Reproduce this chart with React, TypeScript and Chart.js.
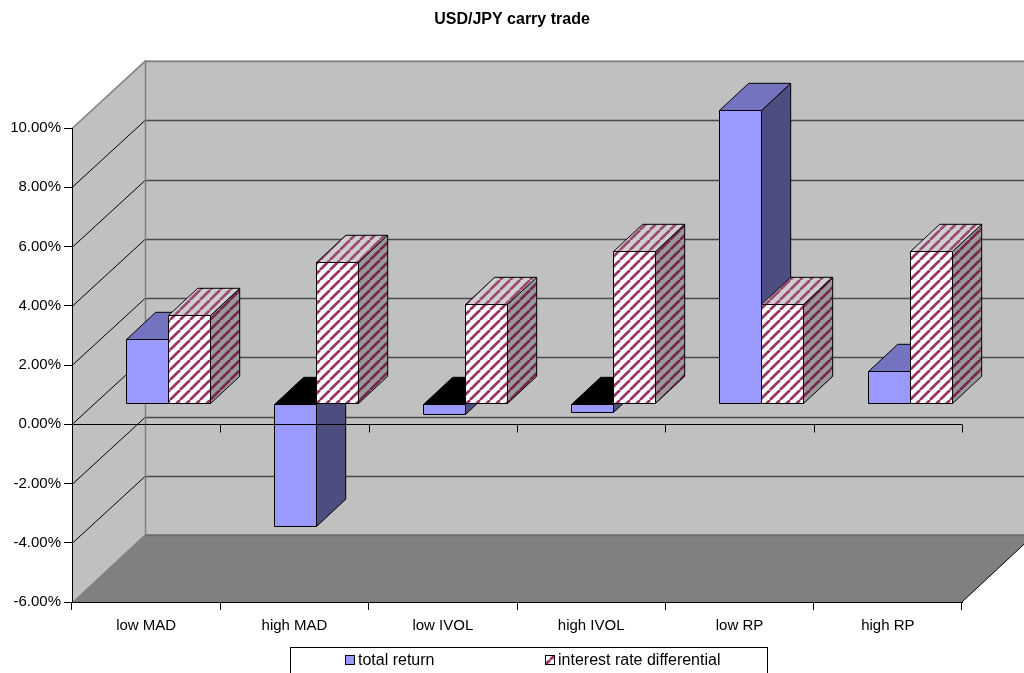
import React, { useEffect, useRef } from "react";
import { Chart, registerables } from "chart.js";

Chart.register(...registerables);

const chartTitle = "USD/JPY carry trade";
const categories = ["low MAD", "high MAD", "low IVOL", "high IVOL", "low RP", "high RP"];
const seriesNames = ["total return", "interest rate differential"];
const totalReturn = [2.2, -4.11, -0.34, -0.27, 9.92, 1.1];
const interestRateDifferential = [3.0, 4.79, 3.38, 5.15, 3.38, 5.15];
const yTicks = [-6, -4, -2, 0, 2, 4, 6, 8, 10];

const FONT = "'Liberation Sans', Arial, sans-serif";
const DX = 73;
const DY = -68;
const BAR_FRONT = 0.3;
const BAR_DEPTH = 0.4;

function makeHatch(bg: string, fg: string): CanvasPattern | string {
  const s = 10;
  const c = document.createElement("canvas");
  c.width = s;
  c.height = s;
  const g = c.getContext("2d");
  if (!g) return bg;
  g.fillStyle = bg;
  g.fillRect(0, 0, s, s);
  g.strokeStyle = fg;
  g.lineWidth = 2.7;
  g.beginPath();
  for (const o of [-s, 0, s]) {
    g.moveTo(o, s);
    g.lineTo(o + s, 0);
  }
  g.stroke();
  const p = g.createPattern(c, "repeat");
  return p || bg;
}

function poly(ctx: CanvasRenderingContext2D, pts: number[][], fill: any, stroke = "#000", lw = 1) {
  ctx.beginPath();
  ctx.moveTo(pts[0][0], pts[0][1]);
  for (let i = 1; i < pts.length; i++) ctx.lineTo(pts[i][0], pts[i][1]);
  ctx.closePath();
  if (fill) {
    ctx.fillStyle = fill;
    ctx.fill();
  }
  if (stroke) {
    ctx.strokeStyle = stroke;
    ctx.lineWidth = lw;
    ctx.stroke();
  }
}

function line(ctx: CanvasRenderingContext2D, x1: number, y1: number, x2: number, y2: number, color: string, lw = 1) {
  ctx.beginPath();
  ctx.moveTo(x1, y1);
  ctx.lineTo(x2, y2);
  ctx.strokeStyle = color;
  ctx.lineWidth = lw;
  ctx.stroke();
}

export default function App() {
  const ref = useRef<HTMLCanvasElement | null>(null);

  useEffect(() => {
    document.body.style.margin = "0";
    const canvas = ref.current;
    if (!canvas) return;

    const styles = [
      { front: "#9999FF", top: "#7373BF", side: "#4D4D80" },
      {
        front: makeHatch("#FFFFFF", "#993366"),
        top: makeHatch("#CFCFCF", "#9A4A72"),
        side: makeHatch("#9A9A9A", "#74284F"),
      },
    ];

    const threeD = {
      id: "threeD",
      beforeDraw(chart: any) {
        const ctx: CanvasRenderingContext2D = chart.ctx;
        const ys = chart.scales.y;
        const left = chart.chartArea.left;
        const right = chart.chartArea.right;
        const yTop = ys.getPixelForValue(yTicks[yTicks.length - 1]);
        const yBot = ys.getPixelForValue(yTicks[0]);
        ctx.save();
        ctx.fillStyle = "#FFFFFF";
        ctx.fillRect(0, 0, chart.width, chart.height);
        poly(ctx, [[left + DX, yTop + DY], [right + DX, yTop + DY], [right + DX, yBot + DY], [left + DX, yBot + DY]], "#C0C0C0", "");
        poly(ctx, [[left, yTop], [left + DX, yTop + DY], [left + DX, yBot + DY], [left, yBot]], "#C0C0C0", "");
        poly(ctx, [[left, yBot], [right, yBot], [right + DX, yBot + DY], [left + DX, yBot + DY]], "#808080", "");
        for (const v of yTicks) {
          const p = Math.round(ys.getPixelForValue(v)) + 0.5;
          const bp = Math.round(p + DY);
          if (v === yTicks[yTicks.length - 1]) {
            line(ctx, left + DX, bp + 0.5, right + DX, bp + 0.5, "#808080", 1.5);
            line(ctx, left, p, left + DX, bp + 0.5, "#808080", 1.5);
          } else if (v === yTicks[0]) {
            line(ctx, left + DX, bp + 0.5, right + DX, bp + 0.5, "#6E6E6E", 1.5);
          } else {
            line(ctx, left + DX, bp + 0.5, right + DX, bp + 0.5, "#4A4A4A", 1.3);
            line(ctx, left, p, left + DX, bp + 0.5, "#000000", 1);
          }
        }
        line(ctx, left + DX + 0.5, yTop + DY, left + DX + 0.5, yBot + DY, "#808080", 1.5);
        line(ctx, right, yBot, right + DX, yBot + DY, "#000000", 1);
        ctx.restore();
      },
      beforeDatasetsDraw(chart: any) {
        const ctx: CanvasRenderingContext2D = chart.ctx;
        const fx = DX * BAR_FRONT;
        const fy = DY * BAR_FRONT;
        const bx = DX * BAR_DEPTH;
        const by = DY * BAR_DEPTH;
        const metas = [chart.getDatasetMeta(0), chart.getDatasetMeta(1)];
        ctx.save();
        ctx.lineJoin = "miter";
        for (let i = 0; i < categories.length; i++) {
          metas.forEach((meta: any, d: number) => {
            const el = meta.data[i];
            if (!el) return;
            const pr = el.getProps(["x", "y", "base", "width"], true);
            const l = Math.round(pr.x - pr.width / 2 + fx) + 0.5;
            const r = Math.round(pr.x + pr.width / 2 + fx) + 0.5;
            const t = Math.round(Math.min(pr.y, pr.base) + fy) + 0.5;
            const b = Math.round(Math.max(pr.y, pr.base) + fy) + 0.5;
            const neg = pr.y > pr.base;
            const st = styles[d];
            poly(ctx, [[r, t], [r + bx, t + by], [r + bx, b + by], [r, b]], st.side);
            poly(ctx, [[l, t], [l + bx, t + by], [r + bx, t + by], [r, t]], neg ? "#000000" : st.top);
            poly(ctx, [[l, t], [r, t], [r, b], [l, b]], st.front);
          });
        }
        ctx.restore();
        return false;
      },
      afterDraw(chart: any) {
        const ctx: CanvasRenderingContext2D = chart.ctx;
        const xs = chart.scales.x;
        const ys = chart.scales.y;
        const left = chart.chartArea.left;
        const right = chart.chartArea.right;
        ctx.save();
        const y0 = Math.round(ys.getPixelForValue(0)) + 0.5;
        line(ctx, left, y0, right, y0, "#000000", 1);
        const half = (xs.getPixelForValue(1) - xs.getPixelForValue(0)) / 2;
        for (let i = 0; i <= categories.length; i++) {
          const xp = Math.round(xs.getPixelForValue(i) - half) + 0.5;
          line(ctx, xp, y0, xp, y0 + 8, "#000000", 1);
        }
        ctx.fillStyle = "#000000";
        ctx.font = `bold 16px ${FONT}`;
        ctx.textAlign = "center";
        ctx.textBaseline = "middle";
        ctx.fillText(chartTitle, 512, 20);
        ctx.strokeStyle = "#000000";
        ctx.lineWidth = 1;
        ctx.strokeRect(290.5, 647.5, 477, 40);
        const items = [
          { x: 345, fill: styles[0].front },
          { x: 545, fill: styles[1].front },
        ];
        ctx.font = `16px ${FONT}`;
        ctx.textAlign = "left";
        items.forEach((it, k) => {
          ctx.fillStyle = it.fill as any;
          ctx.fillRect(it.x + 0.5, 655.5, 9, 9);
          ctx.strokeRect(it.x + 0.5, 655.5, 9, 9);
          ctx.fillStyle = "#000000";
          ctx.fillText(seriesNames[k], it.x + 13, 661);
        });
        ctx.restore();
      },
    };

    const chart = new Chart(canvas, {
      type: "bar",
      data: {
        labels: categories,
        datasets: [
          { label: seriesNames[0], data: totalReturn, backgroundColor: "#9999FF" },
          { label: seriesNames[1], data: interestRateDifferential, backgroundColor: "#993366" },
        ],
      },
      options: {
        responsive: false,
        animation: false,
        devicePixelRatio: 1,
        layout: { padding: { left: 0, top: 128, right: 62, bottom: 0 } },
        datasets: { bar: { categoryPercentage: 0.566, barPercentage: 1.0 } },
        plugins: { legend: { display: false }, title: { display: false }, tooltip: { enabled: false } },
        scales: {
          x: {
            type: "category",
            offset: true,
            grid: { offset: true, drawOnChartArea: false, drawTicks: true, tickLength: 8, tickColor: "#000000", color: "#000000" },
            border: { display: true, color: "#000000", width: 1 },
            ticks: { color: "#000000", font: { family: FONT, size: 15 }, padding: 7, maxRotation: 0, autoSkip: false },
            afterFit: (scale: any) => {
              scale.height = 71;
            },
          },
          y: {
            type: "linear",
            min: yTicks[0],
            max: yTicks[yTicks.length - 1],
            afterBuildTicks: (scale: any) => {
              scale.ticks = yTicks.map((v) => ({ value: v }));
            },
            grid: { drawOnChartArea: false, drawTicks: true, tickLength: 8, tickColor: "#000000", color: "#000000" },
            border: { display: true, color: "#000000", width: 1 },
            ticks: {
              color: "#000000",
              font: { family: FONT, size: 15 },
              padding: 3,
              callback: (v: any) => Number(v).toFixed(2) + "%",
            },
            afterFit: (scale: any) => {
              scale.width = 72;
            },
          },
        },
      },
      plugins: [threeD],
    } as any);

    return () => chart.destroy();
  }, []);

  return (
    <div style={{ width: 1024, height: 673, position: "relative" }}>
      <canvas ref={ref} width={1024} height={673} style={{ display: "block" }} />
    </div>
  );
}
